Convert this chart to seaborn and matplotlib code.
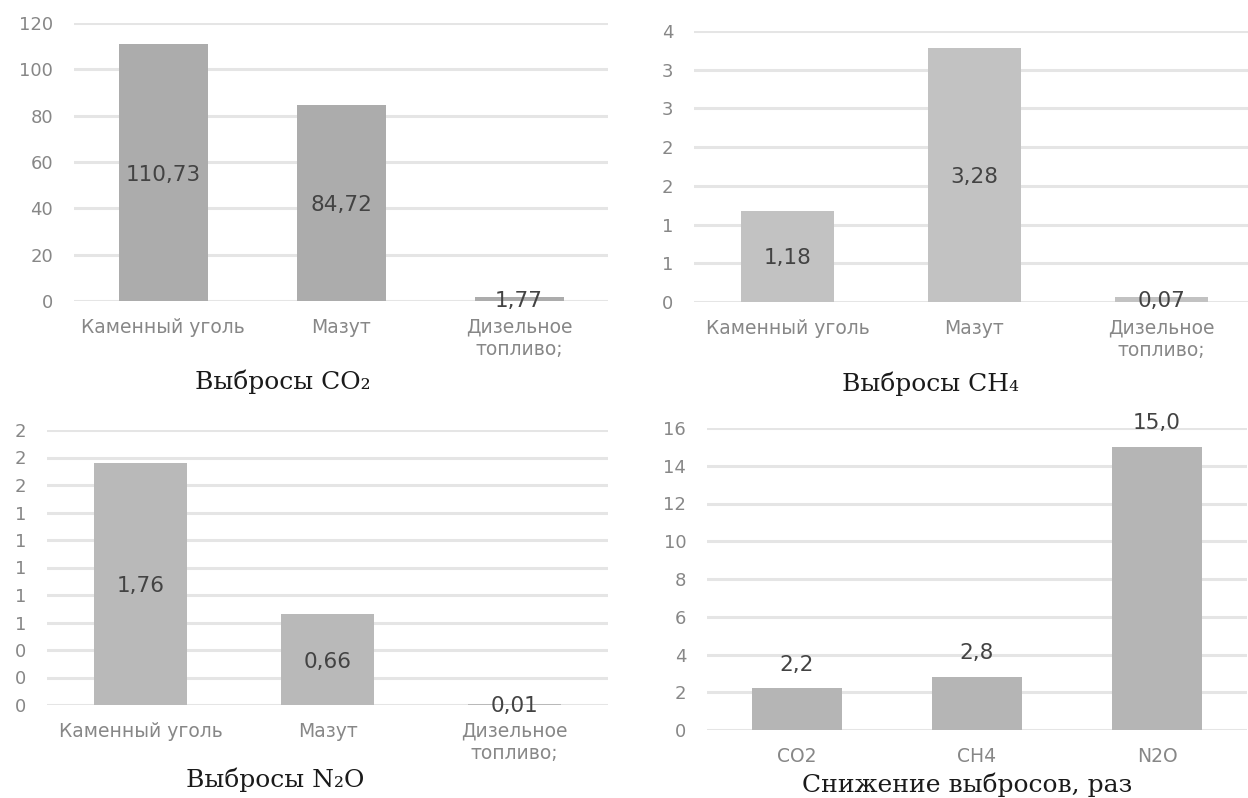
import math
import pandas as pd
import matplotlib
matplotlib.use("Agg")
import matplotlib.pyplot as plt
from matplotlib.ticker import FuncFormatter, MultipleLocator
import seaborn as sns

# Emission data by fuel type
fuels = ["Каменный уголь", "Мазут", "Дизельное\nтопливо;"]
co2_values = [110.73, 84.72, 1.77]
ch4_values = [1.18, 3.28, 0.07]
n2o_values = [1.76, 0.66, 0.01]

# Reduction factor by gas
gases = ["CO2", "CH4", "N2O"]
reduction_values = [2.2, 2.8, 15.0]

titles = ["Выбросы CO₂", "Выбросы CH₄", "Выбросы N₂O", "Снижение выбросов, раз"]

sns.set_theme(style="white")
plt.rcParams["font.family"] = ["DejaVu Sans"]

W, H = 1248, 798
fig = plt.figure(figsize=(W / 100, H / 100), dpi=100)
fig.patch.set_facecolor("white")

TICK_COLOR = "#878787"
VALUE_COLOR = "#434343"
GRID_COLOR = "#e5e5e5"


def px_rect(x0, x1, y_top, y_bottom):
    return [x0 / W, 1 - y_bottom / H, (x1 - x0) / W, (y_bottom - y_top) / H]


def round_half_up(v, _pos=None):
    return str(int(math.floor(v + 0.5 + 1e-9)))


def comma(v, digits):
    return f"{v:.{digits}f}".replace(".", ",")


def draw_panel(rect, cats, vals, color, ymax, step, tick_fmt, digits, inside):
    ax = fig.add_axes(rect)
    df = pd.DataFrame({"cat": cats, "val": vals})
    sns.barplot(data=df, x="cat", y="val", color=color, saturation=1,
                width=0.5, ax=ax, zorder=3, linewidth=0, edgecolor="none")
    ax.set_xlim(-0.5, len(cats) - 0.5)
    ax.set_ylim(0, ymax)
    ax.yaxis.set_major_locator(MultipleLocator(step))
    if tick_fmt is not None:
        ax.yaxis.set_major_formatter(FuncFormatter(tick_fmt))
    ax.set_axisbelow(True)
    ax.grid(axis="y", color=GRID_COLOR, lw=2.2)
    ax.grid(axis="x", visible=False)
    for s in ax.spines.values():
        s.set_visible(False)
    ax.set_xlabel("")
    ax.set_ylabel("")
    ax.tick_params(axis="y", length=0, pad=15, labelsize=13, labelcolor=TICK_COLOR)
    ax.tick_params(axis="x", length=0, pad=12, labelsize=13.5, labelcolor=TICK_COLOR)
    for i, v in enumerate(vals):
        if inside:
            ax.text(i, v / 2, comma(v, digits), ha="center", va="center_baseline",
                    fontsize=15.5, color=VALUE_COLOR, zorder=4)
        else:
            ax.annotate(comma(v, digits), (i, v), xytext=(0, 10),
                        textcoords="offset points", ha="center", va="bottom",
                        fontsize=15.5, color=VALUE_COLOR, zorder=4)
    return ax


draw_panel(px_rect(74, 608, 23, 301), fuels, co2_values, "#acacac",
           120, 20, None, 2, True)
draw_panel(px_rect(694, 1255, 31, 302), fuels, ch4_values, "#c2c2c2",
           3.5, 0.5, round_half_up, 2, True)
draw_panel(px_rect(47, 608, 430, 705), fuels, n2o_values, "#b9b9b9",
           2.0, 0.2, round_half_up, 2, True)
draw_panel(px_rect(707, 1247, 428, 730), gases, reduction_values, "#b5b5b5",
           16, 2, None, 1, False)

title_pos = [(283, 382), (930, 384), (275, 780), (967, 785)]
for t, (x, y) in zip(titles, title_pos):
    fig.text(x / W, 1 - y / H, t, ha="center", va="center",
             family=["DejaVu Serif"], fontsize=18, color="#1a1a1a")

fig.savefig("out.png", dpi=100, facecolor="white")
